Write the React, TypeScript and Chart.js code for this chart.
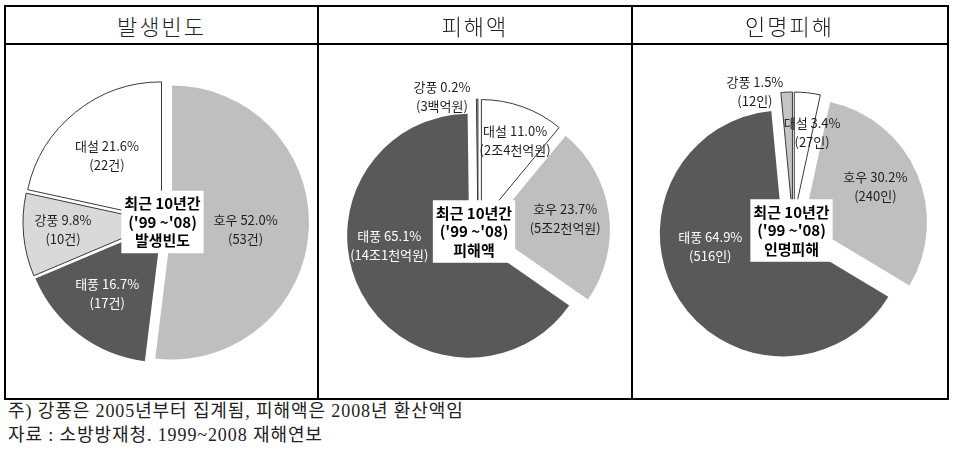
import React, { useEffect, useRef } from "react";
import { Chart, registerables } from "chart.js";

Chart.register(...registerables);

// ---------------- data ----------------
const categories = ["호우", "태풍", "강풍", "대설"];

const frequencyPct = [52.0, 16.7, 9.8, 21.6];
const frequencyCount = ["(53건)", "(17건)", "(10건)", "(22건)"];

const damagePct = [23.7, 65.1, 0.2, 11.0];
const damageAmount = ["(5조2천억원)", "(14조1천억원)", "(3백억원)", "(2조4천억원)"];

const casualtyPct = [30.2, 64.9, 1.5, 3.4];
const casualtyCount = ["(240인)", "(516인)", "(12인)", "(27인)"];

const panelTitles = ["발생빈도", "피해액", "인명피해"];
const centerCaption = ["최근 10년간", "('99 ~'08)"];
const footnotes = [
  "주) 강풍은 2005년부터 집계됨, 피해액은 2008년 환산액임",
  "자료 : 소방방재청. 1999~2008 재해연보",
];

// ---------------- styles ----------------
type PanelCfg = {
  title: string;
  values: number[];
  details: string[];
  left: number;
  top: number;
  radius: number;
  startAfterLast: boolean;
  colors: string[];
  borders: number[];
  explode: number[];
  labelFrac: number[];
  labelShift: number[];
  textColors: string[];
  boxShift: [number, number];
};

const panels: PanelCfg[] = [
  {
    title: panelTitles[0],
    values: frequencyPct,
    details: frequencyCount,
    left: 4,
    top: 62,
    radius: 137,
    startAfterLast: false,
    colors: ["#bfbfbf", "#595959", "#d9d9d9", "#ffffff"],
    borders: [0, 0, 1, 1],
    explode: [8, 4, 4, 4],
    labelFrac: [0.54, 0.64, 0.71, 0.61],
    labelShift: [2.2, 1.3, 1.1, -1.9],
    textColors: ["#1e1e1e", "#ffffff", "#1e1e1e", "#1e1e1e"],
    boxShift: [-1.5, 0],
  },
  {
    title: panelTitles[1],
    values: damagePct,
    details: damageAmount,
    left: 318,
    top: 71,
    radius: 122,
    startAfterLast: true,
    colors: ["#bfbfbf", "#595959", "#bfbfbf", "#ffffff"],
    borders: [0, 0, 1, 1],
    explode: [10, 10, 10, 10],
    labelFrac: [0.64, 0.66, 1.06, 0.72],
    labelShift: [-0.6, 20.6, -15.8, 2.8],
    textColors: ["#1e1e1e", "#ffffff", "#1e1e1e", "#1e1e1e"],
    boxShift: [-4, 0.5],
  },
  {
    title: panelTitles[2],
    values: casualtyPct,
    details: casualtyCount,
    left: 633,
    top: 67,
    radius: 123,
    startAfterLast: true,
    colors: ["#bfbfbf", "#595959", "#c4c4c4", "#ffffff"],
    borders: [0, 0, 1, 1],
    explode: [12, 12, 12, 12],
    labelFrac: [0.65, 0.6, 1.05, 0.69],
    labelShift: [-3.4, 21.6, -14.2, 6],
    textColors: ["#1e1e1e", "#ffffff", "#1e1e1e", "#1e1e1e"],
    boxShift: [-1.5, 3.5],
  },
];

const CANVAS = 320;
const LABEL_FONT = '13px "Noto Sans CJK KR", sans-serif';
const BOX_FONT = 'bold 15px "Noto Sans CJK KR", sans-serif';

function PiePanel({ cfg }: { cfg: PanelCfg }) {
  const ref = useRef<HTMLCanvasElement>(null);

  useEffect(() => {
    const canvas = ref.current!;
    const total = cfg.values.reduce((a, b) => a + b, 0);
    const rotation = cfg.startAfterLast
      ? (cfg.values[cfg.values.length - 1] / total) * 360
      : 0;

    const explodePlugin = {
      id: "explodeSlices",
      afterDatasetUpdate(chart: any, args: any) {
        const meta = chart.getDatasetMeta(args.index);
        meta.data.forEach((arc: any, i: number) => {
          const mid = (arc.startAngle + arc.endAngle) / 2;
          const k = cfg.explode[i] || 0;
          arc.x += Math.cos(mid) * k;
          arc.y += Math.sin(mid) * k;
        });
      },
    };

    const labelPlugin = {
      id: "sliceLabels",
      afterDatasetsDraw(chart: any) {
        const ctx = chart.ctx as CanvasRenderingContext2D;
        const meta = chart.getDatasetMeta(0);
        ctx.save();
        ctx.textAlign = "center";
        ctx.textBaseline = "middle";
        ctx.font = LABEL_FONT;
        meta.data.forEach((arc: any, i: number) => {
          const mid =
            (arc.startAngle + arc.endAngle) / 2 +
            (cfg.labelShift[i] * Math.PI) / 180;
          const r = arc.outerRadius * cfg.labelFrac[i];
          const x = arc.x + Math.cos(mid) * r;
          const y = arc.y + Math.sin(mid) * r;
          ctx.fillStyle = cfg.textColors[i];
          ctx.fillText(
            `${categories[i]} ${cfg.values[i].toFixed(1)}%`,
            x,
            y - 9.5
          );
          ctx.fillText(cfg.details[i], x, y + 9.5);
        });

        // centre caption box
        const ca = chart.chartArea;
        const cx = (ca.left + ca.right) / 2 + cfg.boxShift[0];
        const cy = (ca.top + ca.bottom) / 2 + cfg.boxShift[1];
        ctx.font = BOX_FONT;
        const lines = [centerCaption[0], centerCaption[1], cfg.title];
        const w = Math.max(...lines.map((l) => ctx.measureText(l).width)) + 6;
        const lh = 18.5;
        const h = lh * 3 + 7;
        ctx.fillStyle = "#ffffff";
        ctx.fillRect(cx - w / 2, cy - h / 2, w, h);
        ctx.fillStyle = "#000000";
        lines.forEach((l, j) => ctx.fillText(l, cx, cy + (j - 1) * lh));
        ctx.restore();
      },
    };

    const chart = new Chart(canvas, {
      type: "pie",
      data: {
        labels: categories,
        datasets: [
          {
            data: cfg.values,
            backgroundColor: cfg.colors,
            borderColor: "#3a3a3a",
            borderWidth: cfg.borders,
            rotation,
            radius: cfg.radius,
          } as any,
        ],
      },
      options: {
        responsive: false,
        animation: false,
        events: [],
        radius: cfg.radius,
        rotation,
        layout: { padding: 0 },
        plugins: {
          legend: { display: false },
          tooltip: { enabled: false },
        },
      } as any,
      plugins: [explodePlugin, labelPlugin],
    });
    return () => chart.destroy();
  }, [cfg]);

  return (
    <canvas
      ref={ref}
      width={CANVAS}
      height={CANVAS}
      style={{
        position: "absolute",
        left: cfg.left,
        top: cfg.top,
        width: CANVAS,
        height: CANVAS,
      }}
    />
  );
}

const line = (left: number, top: number, width: number, height: number) => (
  <div
    key={`${left}-${top}-${width}-${height}`}
    style={{
      position: "absolute",
      left,
      top,
      width,
      height,
      background: "#000",
    }}
  />
);

const cells = [
  [6, 311],
  [319, 312],
  [633, 313],
];

export default function App() {
  return (
    <div
      style={{
        position: "fixed",
        left: 0,
        top: 0,
        width: 960,
        height: 460,
        background: "#fff",
        overflow: "hidden",
      }}
    >
      {panels.map((p, i) => (
        <PiePanel key={i} cfg={p} />
      ))}
      {line(4, 5, 945, 2)}
      {line(4, 398, 945, 2)}
      {line(4, 43, 945, 2)}
      {line(4, 5, 2, 395)}
      {line(947, 5, 2, 395)}
      {line(317, 5, 2, 395)}
      {line(631, 5, 2, 395)}
      {panelTitles.map((t, i) => (
        <div
          key={t}
          style={{
            position: "absolute",
            left: cells[i][0],
            width: cells[i][1],
            top: 7,
            height: 36,
            display: "flex",
            alignItems: "center",
            justifyContent: "center",
            fontFamily: '"Noto Sans CJK KR", sans-serif',
            fontWeight: 300,
            fontSize: 22,
            letterSpacing: 2,
            color: "#222",
          }}
        >
          {t}
        </div>
      ))}
      {footnotes.map((f, i) => (
        <div
          key={f}
          style={{
            position: "absolute",
            left: 8,
            top: 400 + i * 24,
            height: 22,
            lineHeight: "22px",
            fontFamily: '"Liberation Serif", "Noto Sans CJK KR", serif',
            fontSize: 18,
            letterSpacing: 0.9,
            color: "#222",
            whiteSpace: "nowrap",
          }}
        >
          {f}
        </div>
      ))}
    </div>
  );
}
